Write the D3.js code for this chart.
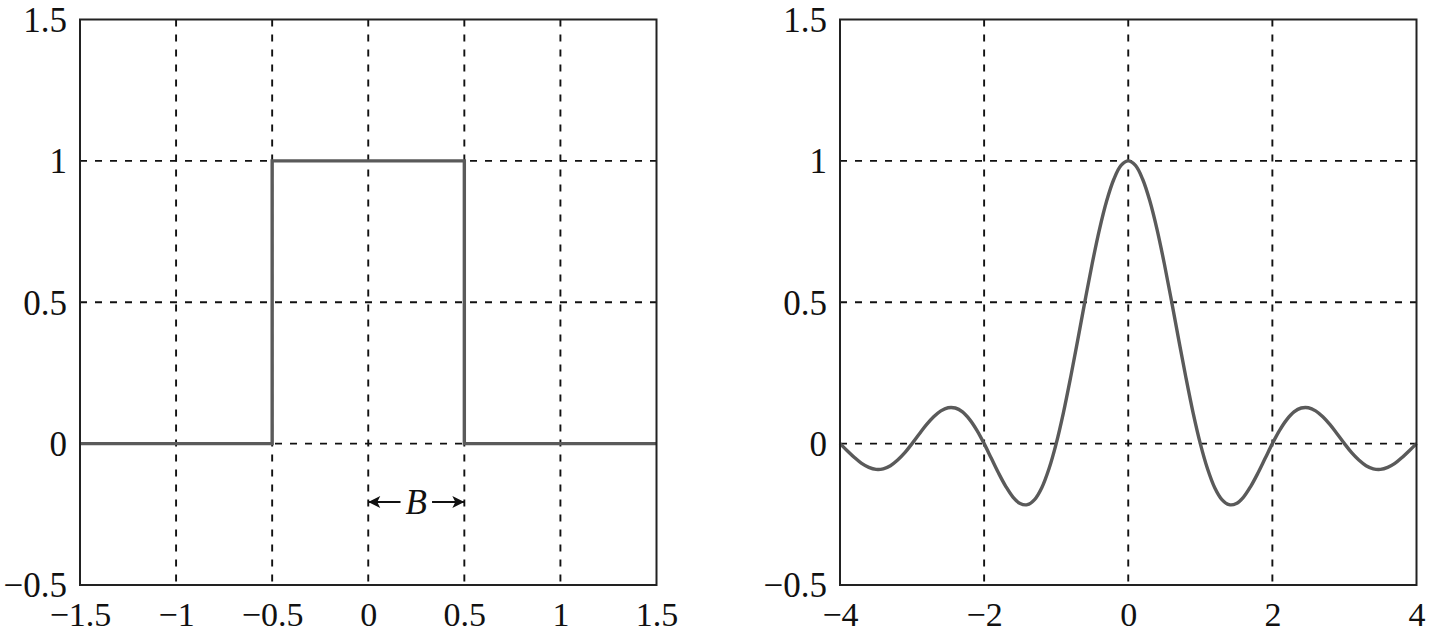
<!DOCTYPE html>
<html><head><meta charset="utf-8">
<script src="https://cdn.jsdelivr.net/npm/d3@7"></script>
<style>body{margin:0;background:#fff}svg text{font-family:"Liberation Serif","Times New Roman",serif;}</style>
</head><body><svg id="c" width="1431" height="635"></svg>
<script>
// Left panel: rectangular pulse
const rectX = [-1.5, -0.5, -0.5, 0.5, 0.5, 1.5];
const rectY = [0, 0, 1, 1, 0, 0];
// Right panel: sinc curve read at x step 0.1
const sincX = d3.range(-40, 41).map(i => i / 10);
const sincY = [0,-0.025,-0.049,-0.070,-0.084,-0.091,-0.089,-0.078,-0.058,-0.032,
 0,0.034,0.067,0.095,0.116,0.127,0.126,0.112,0.085,0.047,
 0,-0.052,-0.104,-0.151,-0.189,-0.212,-0.216,-0.198,-0.156,-0.089,
 0,0.109,0.234,0.368,0.505,0.637,0.757,0.858,0.935,0.984,
 1,
 0.984,0.935,0.858,0.757,0.637,0.505,0.368,0.234,0.109,
 0,-0.089,-0.156,-0.198,-0.216,-0.212,-0.189,-0.151,-0.104,-0.052,
 0,0.047,0.085,0.112,0.126,0.127,0.116,0.095,0.067,0.034,
 0,-0.032,-0.058,-0.078,-0.089,-0.091,-0.084,-0.070,-0.049,-0.025,0];
const leftXTicks = [-1.5, -1, -0.5, 0, 0.5, 1, 1.5];
const leftXGrid = [-1, -0.5, 0, 0.5, 1];
const rightXTicks = [-4, -2, 0, 2, 4];
const rightXGrid = [-2, 0, 2];
const yTicks = [-0.5, 0, 0.5, 1, 1.5];
const yGrid = [0, 0.5, 1];

const svg = d3.select("#c");
const plotTop = 19.5, plotBottom = 585;
const y = d3.scaleLinear().domain([-0.5, 1.5]).range([plotBottom, plotTop]);
const fmt = v => String(v).replace("-", "\u2212");

function panel(x0, x1, domain, xticks, xgrid, xs, ys) {
  const x = d3.scaleLinear().domain(domain).range([x0, x1]);
  const g = svg.append("g");
  g.selectAll(".vg").data(xgrid).join("line")
    .attr("x1", d => x(d)).attr("x2", d => x(d)).attr("y1", plotTop).attr("y2", plotBottom)
    .attr("stroke", "#111").attr("stroke-width", 1.9).attr("stroke-dasharray", "7,8");
  g.selectAll(".hg").data(yGrid).join("line")
    .attr("y1", d => y(d)).attr("y2", d => y(d)).attr("x1", x0).attr("x2", x1)
    .attr("stroke", "#111").attr("stroke-width", 1.9).attr("stroke-dasharray", "7,8");
  const axB = g.append("g").attr("transform", `translate(0,${plotBottom})`)
    .call(d3.axisBottom(x).tickValues(xticks).tickSize(0).tickPadding(0).tickFormat(fmt));
  axB.select(".domain").remove();
  axB.selectAll("text").attr("font-size", 34).attr("fill", "#111")
    .attr("dy", null).attr("y", 41);
  const axL = g.append("g").attr("transform", `translate(${x0},0)`)
    .call(d3.axisLeft(y).tickValues(yTicks).tickSize(0).tickPadding(13).tickFormat(fmt));
  axL.select(".domain").remove();
  axL.selectAll("text").attr("font-size", 35).attr("fill", "#111")
    .attr("dy", "0.34em");
  const line = d3.line().x((d, i) => x(xs[i])).y((d, i) => y(ys[i]))
    .curve(xs.length > 10 ? d3.curveCatmullRom : d3.curveLinear);
  g.append("path").datum(xs).attr("d", line)
    .attr("fill", "none").attr("stroke", "#5a5a5a").attr("stroke-width", 3.4)
    .attr("stroke-linejoin", "miter");
  g.append("rect").attr("x", x0).attr("y", plotTop).attr("width", x1 - x0).attr("height", plotBottom - plotTop)
    .attr("fill", "none").attr("stroke", "#222").attr("stroke-width", 2);
  return x;
}

const xl = panel(80, 656.5, [-1.5, 1.5], leftXTicks, leftXGrid, rectX, rectY);
panel(840, 1416.5, [-4, 4], rightXTicks, rightXGrid, sincX, sincY);

// B annotation
const defs = svg.append("defs");
defs.append("marker").attr("id", "ah").attr("viewBox", "0 0 10 10").attr("refX", 10).attr("refY", 5)
  .attr("markerWidth", 15).attr("markerHeight", 12).attr("markerUnits", "userSpaceOnUse").attr("orient", "auto")
  .append("path").attr("d", "M0,0 L10,5 L0,10 L2.5,5 Z").attr("fill", "#111");
const annY = 502;
svg.append("line").attr("x1", xl(0.168)).attr("x2", xl(0)).attr("y1", annY).attr("y2", annY)
  .attr("stroke", "#111").attr("stroke-width", 2.2).attr("marker-end", "url(#ah)");
svg.append("line").attr("x1", xl(0.332)).attr("x2", xl(0.5)).attr("y1", annY).attr("y2", annY)
  .attr("stroke", "#111").attr("stroke-width", 2.2).attr("marker-end", "url(#ah)");
svg.append("text").attr("x", xl(0.25)).attr("y", annY).attr("dy", "0.35em").attr("text-anchor", "middle")
  .attr("font-size", 35).attr("font-style", "italic").attr("fill", "#111").text("B");
</script></body></html>
